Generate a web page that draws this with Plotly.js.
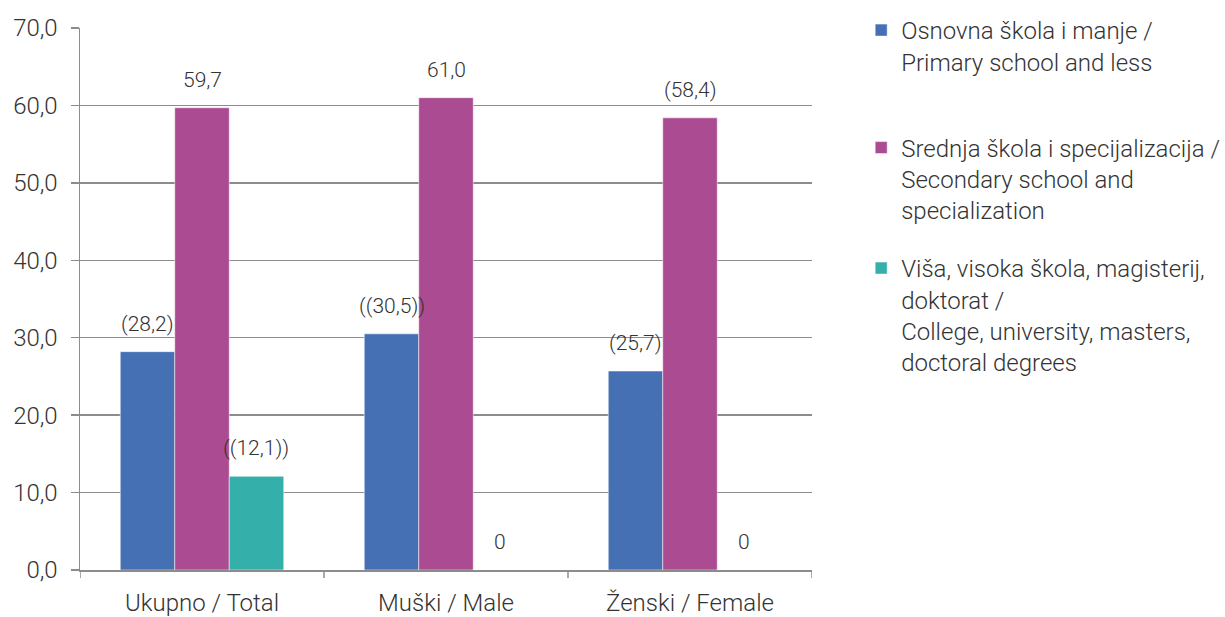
<!DOCTYPE html>
<html><head><meta charset="utf-8">
<script src="https://cdn.plot.ly/plotly-3.0.1.min.js"></script>
<style>body{margin:0;background:#fff}#chart{width:1225px;height:617px}</style>
</head><body><div id="chart"></div>
<script>
const categories = ["Ukupno / Total", "Muški / Male", "Ženski / Female"];
const seriesNames = [
  "Osnovna škola i manje /<br>Primary school and less",
  "Srednja škola i specijalizacija /<br>Secondary school and<br>specialization",
  "Viša, visoka škola, magisterij,<br>doktorat /<br>College, university, masters,<br>doctoral degrees"
];
const primary = [28.2, 30.5, 25.7];
const secondary = [59.7, 61.0, 58.4];
const higher = [12.1, 0, 0];
const primaryLabels = ["(28,2)", "((30,5))", "(25,7)"];
const secondaryLabels = ["59,7", "61,0", "(58,4)"];
const higherLabels = ["((12,1))", "0", "0"];
const yTicks = [0, 10, 20, 30, 40, 50, 60, 70];

const colors = ["#4670b4", "#ab4b91", "#35afaa"];
const series = [primary, secondary, higher];
const labels = [primaryLabels, secondaryLabels, higherLabels];
const legendIds = ["legend", "legend2", "legend3"];
const font = {family: "Roboto", weight: 300, color: "#333333"};
const bargap = 0.33;
const barW = (1 - bargap) / series.length;

const traces = series.map((vals, k) => ({
  type: "bar",
  x: categories.map((c, i) => i),
  y: vals,
  name: seriesNames[k],
  legend: legendIds[k],
  marker: {color: colors[k], line: {color: "rgba(255,255,255,0.5)", width: 1}},
  hoverinfo: "skip"
}));

const annotations = [];
series.forEach((vals, k) => {
  vals.forEach((v, i) => {
    annotations.push({
      x: i + (k - 1) * barW, y: v, xref: "x", yref: "y",
      text: labels[k][i], showarrow: false, yanchor: "bottom", yshift: 14,
      font: Object.assign({size: 21}, font)
    });
  });
});

const legendBase = {
  xref: "container", yref: "container", xanchor: "left", yanchor: "top",
  valign: "top", bgcolor: "rgba(0,0,0,0)", borderwidth: 0,
  font: Object.assign({size: 24}, font)
};

const layout = {
  width: 1225, height: 617,
  margin: {l: 80, r: 413, t: 28, b: 47, pad: 0, autoexpand: false},
  paper_bgcolor: "#ffffff", plot_bgcolor: "#ffffff",
  separators: ", ",
  barmode: "group", bargap: bargap, bargroupgap: 0,
  font: Object.assign({size: 24}, font),
  showlegend: true,
  legend: Object.assign({}, legendBase, {x: 0.703, y: 0.987}),
  legend2: Object.assign({}, legendBase, {x: 0.703, y: 0.7966}),
  legend3: Object.assign({}, legendBase, {x: 0.703, y: 0.6013}),
  xaxis: {
    type: "linear", range: [-0.5, 2.5],
    tickmode: "array", tickvals: categories.map((c, i) => i), ticktext: categories,
    showgrid: false, zeroline: false,
    showline: true, linecolor: "#8c8c8c", linewidth: 1.5,
    ticks: "", ticklabelstandoff: 11,
    tickfont: Object.assign({size: 24}, font)
  },
  yaxis: {
    range: [0, 70], tickmode: "array", tickvals: yTicks, tickformat: ".1f",
    showgrid: true, gridcolor: "#8c8c8c", gridwidth: 1.5, zeroline: false,
    showline: true, linecolor: "#8c8c8c", linewidth: 1.5,
    ticks: "outside", ticklen: 8, tickcolor: "#8c8c8c", tickwidth: 1.5,
    ticklabelstandoff: 8,
    tickfont: Object.assign({size: 24}, font)
  },
  shapes: [-0.5, 0.5, 1.5, 2.5].map(b => ({
    type: "line", xref: "x", yref: "paper", x0: b, x1: b,
    ysizemode: "pixel", yanchor: 0, y0: 0, y1: -8,
    line: {color: "#8c8c8c", width: 1.5}
  })),
  annotations: annotations
};

Plotly.newPlot("chart", traces, layout, {displayModeBar: false, staticPlot: true});
</script>
</body></html>
